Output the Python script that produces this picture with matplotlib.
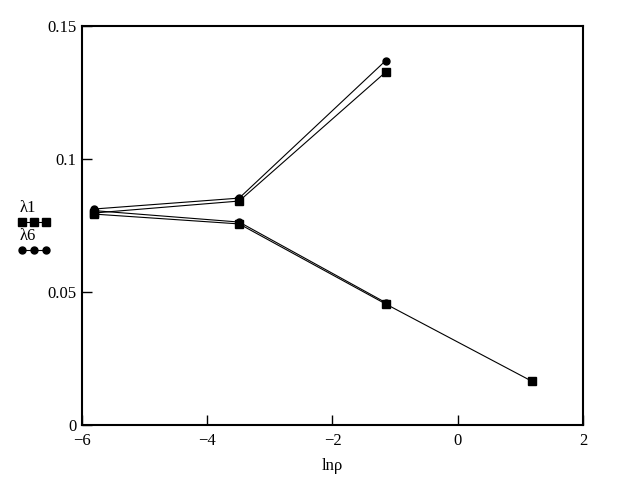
import matplotlib
matplotlib.use('Agg')
import matplotlib.pyplot as plt
from matplotlib.lines import Line2D

plt.rcParams['font.family'] = ['Liberation Serif', 'DejaVu Serif']

# ln(rho) values
x_up = [-5.81, -3.49, -1.15]
x_low = [-5.81, -3.49, -1.15, 1.18]

# lambda1 (squares): upper and lower branch
lam1_up = [0.0797, 0.0842, 0.1327]
lam1_low = [0.0793, 0.0756, 0.0455, 0.0165]
# lambda6 (circles): upper and lower branch
lam6_up = [0.0812, 0.0853, 0.1370]
lam6_low = [0.0806, 0.0763, 0.0460]

xticks = [-6, -4, -2, 0, 2]
xlabels = ['\u22126', '\u22124', '\u22122', '0', '2']
yticks = [0, 0.05, 0.1, 0.15]
ylabels = ['0', '0.05', '0.1', '0.15']

fig = plt.figure(figsize=(6.23, 4.79), dpi=100)
ax = fig.add_axes([0.1316, 0.1127, 0.8042, 0.833])

sq = dict(color='black', lw=0.8, marker='s', ms=5.5)
ci = dict(color='black', lw=0.8, marker='o', ms=5)
ax.plot(x_up, lam1_up, **sq)
ax.plot(x_low, lam1_low, **sq)
ax.plot(x_up, lam6_up, **ci)
ax.plot(x_low[:3], lam6_low, **ci)

ax.set_xlim(-6, 2)
ax.set_ylim(0, 0.15)
ax.set_xticks(xticks)
ax.set_xticklabels(xlabels)
ax.set_yticks(yticks)
ax.set_yticklabels(ylabels)
ax.tick_params(direction='in', length=7, width=1, labelsize=12)
ax.tick_params(axis='x', pad=6)
ax.tick_params(axis='y', pad=4)
for s in ax.spines.values():
    s.set_linewidth(1.5)
ax.set_xlabel('ln\u03c1', fontsize=12, labelpad=6)

# legend on the left, outside the axes
lx = [22 / 623, 34 / 623, 46 / 623]
fig.text(20 / 623, 1 - 208 / 479, '\u03bb1', fontsize=12, va='center')
fig.add_artist(Line2D(lx, [1 - 222 / 479] * 3, transform=fig.transFigure, **sq))
fig.text(20 / 623, 1 - 236 / 479, '\u03bb6', fontsize=12, va='center')
fig.add_artist(Line2D(lx, [1 - 250 / 479] * 3, transform=fig.transFigure, **ci))

fig.savefig('out.png', dpi=100)
